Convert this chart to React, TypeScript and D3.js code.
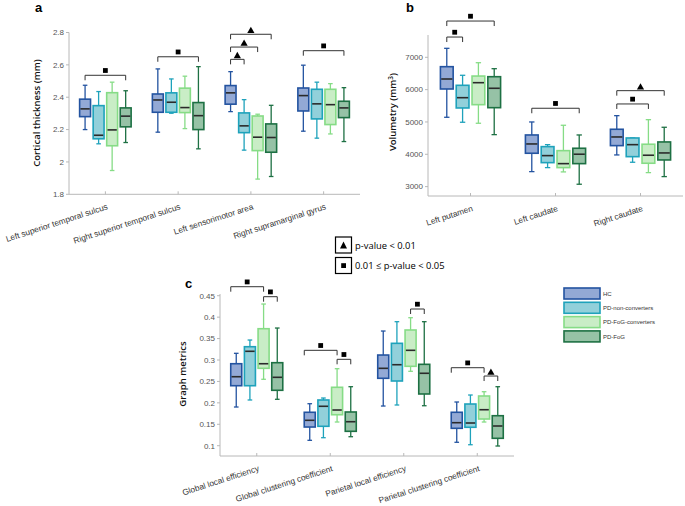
import React from "react";
import * as d3 from "d3";

// ---------- DATA ----------
const seriesNames = ["HC", "PD-non-converters", "PD-FoG-converters", "PD-FoG"];
const edgeColors = ["#2353a0", "#1ea2bb", "#86dc86", "#1d7043"];
const fillColors = ["#93a9d5", "#92d0da", "#c9edc6", "#96c2a6"];

// Panel a: cortical thickness; each entry [lowWhisker, q1, median, q3, highWhisker]
const thicknessCategories = [
  "Left superior temporal sulcus",
  "Right superior temporal sulcus",
  "Left sensorimotor area",
  "Right supramarginal gyrus",
];
const thicknessHC = [
  [2.2, 2.28, 2.328, 2.388, 2.474],
  [2.184, 2.307, 2.383, 2.42, 2.575],
  [2.311, 2.357, 2.427, 2.472, 2.558],
  [2.19, 2.315, 2.41, 2.457, 2.598],
];
const thicknessNonConv = [
  [2.112, 2.143, 2.165, 2.348, 2.435],
  [2.301, 2.307, 2.369, 2.427, 2.513],
  [2.073, 2.181, 2.223, 2.303, 2.385],
  [2.147, 2.266, 2.359, 2.449, 2.493],
];
const thicknessConv = [
  [1.947, 2.1, 2.198, 2.428, 2.493],
  [2.206, 2.305, 2.336, 2.456, 2.53],
  [1.894, 2.07, 2.153, 2.284, 2.295],
  [2.173, 2.231, 2.354, 2.449, 2.484],
];
const thicknessFoG = [
  [2.12, 2.217, 2.283, 2.334, 2.44],
  [2.081, 2.2, 2.286, 2.367, 2.589],
  [1.91, 2.06, 2.151, 2.235, 2.35],
  [2.126, 2.274, 2.334, 2.375, 2.459],
];
const thicknessTicks = [1.8, 2, 2.2, 2.4, 2.6, 2.8];
// brackets: [category, fromBox, toBox, level, marker]
const thicknessBrackets = [
  [0, 0, 3, 2.5355, "sq"],
  [1, 0, 3, 2.65, "sq"],
  [2, 0, 1, 2.634, "tri"],
  [2, 0, 2, 2.71, "tri"],
  [2, 0, 3, 2.789, "tri"],
  [3, 0, 3, 2.6875, "sq"],
];

// Panel b: volumetry
const volumeCategories = ["Left putamen", "Left caudate", "Right caudate"];
const volumeHC = [
  [5145, 6020, 6329, 6710, 7278],
  [3464, 4032, 4320, 4598, 5000],
  [3980, 4268, 4536, 4774, 5195],
];
const volumeNonConv = [
  [4991, 5433, 5751, 6134, 6444],
  [3588, 3742, 3959, 4237, 4298],
  [3754, 3927, 4298, 4505, 4505],
];
const volumeConv = [
  [4960, 5535, 6215, 6420, 6833],
  [3455, 3588, 3711, 4113, 4898],
  [3433, 3723, 3971, 4311, 5071],
];
const volumeFoG = [
  [4608, 5442, 6042, 6400, 6648],
  [3074, 3711, 4002, 4187, 4598],
  [3310, 3825, 4042, 4382, 4836],
];
const volumeTicks = [3000, 4000, 5000, 6000, 7000];
const volumeBrackets = [
  [0, 0, 1, 7627, "sq"],
  [0, 0, 3, 8122, "sq"],
  [1, 0, 3, 5424, "sq"],
  [2, 0, 2, 5557, "sq"],
  [2, 0, 3, 5968, "tri"],
];

// Panel c: graph metrics
const graphCategories = [
  "Global local efficiency",
  "Global clustering coefficient",
  "Parietal local efficiency",
  "Parietal clustering coefficient",
];
const graphHC = [
  [0.1903, 0.24, 0.261, 0.2913, 0.3156],
  [0.1126, 0.1436, 0.1593, 0.178, 0.198],
  [0.1926, 0.2573, 0.2806, 0.3116, 0.3676],
  [0.108, 0.1406, 0.1537, 0.178, 0.202],
];
const graphNonConv = [
  [0.2067, 0.24, 0.3203, 0.331, 0.3466],
  [0.1187, 0.1453, 0.192, 0.2067, 0.2113],
  [0.195, 0.251, 0.289, 0.3389, 0.3894],
  [0.1023, 0.143, 0.153, 0.1973, 0.2183],
];
const graphConv = [
  [0.255, 0.2806, 0.2913, 0.373, 0.4306],
  [0.1553, 0.1723, 0.1833, 0.2363, 0.2797],
  [0.2736, 0.2853, 0.3226, 0.37, 0.3987],
  [0.1553, 0.1623, 0.184, 0.216, 0.226],
];
const graphFoG = [
  [0.2083, 0.2293, 0.2596, 0.2937, 0.3746],
  [0.121, 0.1336, 0.156, 0.1787, 0.2377],
  [0.1933, 0.2207, 0.269, 0.2899, 0.3894],
  [0.0993, 0.1173, 0.146, 0.17, 0.2377],
];
const graphTicks = [0.1, 0.15, 0.2, 0.25, 0.3, 0.35, 0.4, 0.45];
const graphBrackets = [
  [0, -0.4, 2, 0.471, "sq"],
  [0, 2, 3, 0.4477, "sq"],
  [1, -0.4, 2, 0.3226, "sq"],
  [1, 2, 3, 0.3016, "sq"],
  [2, 2, 3, 0.419, "sq"],
  [3, -0.4, 2, 0.282, "sq"],
  [3, 2, 3, 0.2626, "tri"],
];

const legendSigLabels = ["p-value < 0.01", "0.01 ≤ p-value < 0.05"];

// ---------- RENDERING ----------
const FONT = "'Liberation Sans', Arial, sans-serif";
const BOX_OFFSETS = [-0.279, -0.093, 0.093, 0.279];
const BOX_W = 0.15;

type PanelProps = {
  letter: string;
  letterPos: [number, number];
  yLabel: React.ReactNode;
  yLabelPos: [number, number];
  categories: string[];
  series: number[][][];
  ticks: number[];
  tickFmt: (v: number) => string;
  xRange: [number, number];
  yDomain: [number, number];
  yRange: [number, number];
  brackets: any[];
};

function Panel(p: PanelProps) {
  const n = p.categories.length;
  const x = d3.scaleLinear().domain([0.5, n + 0.5]).range(p.xRange);
  const y = d3.scaleLinear().domain(p.yDomain).range(p.yRange);
  const axisY = p.yRange[0];
  const axisX = p.xRange[0];
  const unit = x(2) - x(1);
  const boxX = (c: number, b: number) => x(c + 1 + b * 0.186);
  const items: React.ReactNode[] = [];
  p.series.forEach((ser, si) => {
    ser.forEach((st, ci) => {
      const cx = x(ci + 1 + BOX_OFFSETS[si]);
      const w = BOX_W * unit;
      const [lo, q1, med, q3, hi] = st;
      const cap = w * 0.42;
      items.push(
        <g key={`b${si}-${ci}`}>
          <line x1={cx} x2={cx} y1={y(hi)} y2={y(q3)} stroke={edgeColors[si]} strokeWidth={1.3} />
          <line x1={cx} x2={cx} y1={y(q1)} y2={y(lo)} stroke={edgeColors[si]} strokeWidth={1.3} />
          <line x1={cx - cap / 2} x2={cx + cap / 2} y1={y(hi)} y2={y(hi)} stroke={edgeColors[si]} strokeWidth={1.3} />
          <line x1={cx - cap / 2} x2={cx + cap / 2} y1={y(lo)} y2={y(lo)} stroke={edgeColors[si]} strokeWidth={1.3} />
          <rect x={cx - w / 2} y={y(q3)} width={w} height={Math.max(0.5, y(q1) - y(q3))}
            fill={fillColors[si]} stroke={edgeColors[si]} strokeWidth={1.6} />
          <line x1={cx - w / 2 + 0.8} x2={cx + w / 2 - 0.8} y1={y(med)} y2={y(med)} stroke="#2a2a2a" strokeWidth={1.6} />
        </g>
      );
    });
  });
  const bracketEls = p.brackets.map((b, i) => {
    const [c, from, to, lvl, mk] = b;
    const x1 = boxX(c, from - 1.5);
    const x2 = boxX(c, to - 1.5);
    const yy = y(lvl);
    const mx = (x1 + x2) / 2;
    return (
      <g key={`br${i}`}>
        <path d={`M${x1},${yy + 5}V${yy}H${x2}V${yy + 5}`} fill="none" stroke="#333" strokeWidth={1} />
        {mk === "sq" ? (
          <rect x={mx - 2.4} y={yy - 7.2} width={4.8} height={4.8} fill="#000" />
        ) : (
          <path d={`M${mx},${yy - 7.5}L${mx + 3.6},${yy - 1.2}L${mx - 3.6},${yy - 1.2}Z`} fill="#000" />
        )}
      </g>
    );
  });
  return (
    <g>
      <text x={p.letterPos[0]} y={p.letterPos[1]} fontFamily={FONT} fontWeight="bold" fontSize={13} fill="#000">{p.letter}</text>
      <line x1={axisX} x2={axisX} y1={p.yRange[1]} y2={axisY} stroke="#b8b8b8" strokeWidth={1} />
      <line x1={axisX} x2={p.xRange[1]} y1={axisY} y2={axisY} stroke="#b8b8b8" strokeWidth={1} />
      {p.ticks.map((t) => (
        <g key={`t${t}`}>
          <line x1={axisX - 3} x2={axisX} y1={y(t)} y2={y(t)} stroke="#b8b8b8" />
          <text x={axisX - 5} y={y(t)} dy="0.35em" textAnchor="end" fontFamily={FONT} fontSize={8} fill="#555">{p.tickFmt(t)}</text>
        </g>
      ))}
      {p.categories.map((c, i) => (
        <g key={`c${i}`}>
          <line x1={x(i + 1)} x2={x(i + 1)} y1={axisY} y2={axisY - 3} stroke="#b8b8b8" />
          <text transform={`translate(${x(i + 1) + 2},${axisY + 12}) rotate(-18)`} textAnchor="end" dy="0.35em"
            fontFamily={FONT} fontSize={8.3} fill="#333">{c}</text>
        </g>
      ))}
      <text transform={`translate(${p.yLabelPos[0]},${p.yLabelPos[1]}) rotate(-90)`} textAnchor="middle"
        fontFamily="'Open Sans', sans-serif" fontWeight={600} fontSize={9.5} fill="#111">{p.yLabel}</text>
      {items}
      {bracketEls}
    </g>
  );
}

export default function App() {
  const fmt = (v: number) => d3.format("~g")(v);
  return (
    <svg width={685} height={506} style={{ position: "absolute", left: 0, top: 0, background: "#fff" }}>
      <Panel
        letter="a" letterPos={[35, 12]}
        yLabel="Cortical thickness (mm)" yLabelPos={[40, 113]}
        categories={thicknessCategories}
        series={[thicknessHC, thicknessNonConv, thicknessConv, thicknessFoG]}
        ticks={thicknessTicks} tickFmt={fmt}
        xRange={[69, 360]} yDomain={[1.8, 2.8]} yRange={[194.3, 32.5]}
        brackets={thicknessBrackets}
      />
      <Panel
        letter="b" letterPos={[406, 12]}
        yLabel={<>Volumetry (mm<tspan dy={-3} fontSize={6.5}>3</tspan><tspan dy={3}>)</tspan></>} yLabelPos={[396, 112]}
        categories={volumeCategories}
        series={[volumeHC, volumeNonConv, volumeConv, volumeFoG]}
        ticks={volumeTicks} tickFmt={(v) => String(v)}
        xRange={[428, 683]} yDomain={[2710, 7690]} yRange={[196, 35]}
        brackets={volumeBrackets}
      />
      <Panel
        letter="c" letterPos={[185, 288]}
        yLabel="Graph metrics" yLabelPos={[186, 374]}
        categories={graphCategories}
        series={[graphHC, graphNonConv, graphConv, graphFoG]}
        ticks={graphTicks} tickFmt={fmt}
        xRange={[220, 514]} yDomain={[0.076, 0.454]} yRange={[456, 294]}
        brackets={graphBrackets}
      />
      {/* significance legend */}
      <g>
        <rect x={335.5} y={237} width={16} height={16} fill="#fff" stroke="#000" strokeWidth={1.2} />
        <path d="M343.5,241.5L347,248.5L340,248.5Z" fill="#000" />
        <text x={355} y={245.5} dy="0.35em" fontFamily="'Open Sans', sans-serif" fontSize={9.4} fill="#000">{legendSigLabels[0]}</text>
        <rect x={335.5} y={257.5} width={16} height={16} fill="#fff" stroke="#000" strokeWidth={1.2} />
        <rect x={341.2} y={263.2} width={4.8} height={4.8} fill="#000" />
        <text x={355} y={266} dy="0.35em" fontFamily="'Open Sans', sans-serif" fontSize={9.4} fill="#000">{legendSigLabels[1]}</text>
      </g>
      {/* group legend */}
      <g>
        {seriesNames.map((s, i) => (
          <g key={s}>
            <rect x={564} y={288 + i * 14.3} width={36} height={11} fill={fillColors[i]} stroke={edgeColors[i]} strokeWidth={1.6} />
            <text x={603} y={293.5 + i * 14.3} dy="0.35em" fontFamily={FONT} fontSize={6} fill="#333">{s}</text>
          </g>
        ))}
      </g>
    </svg>
  );
}
